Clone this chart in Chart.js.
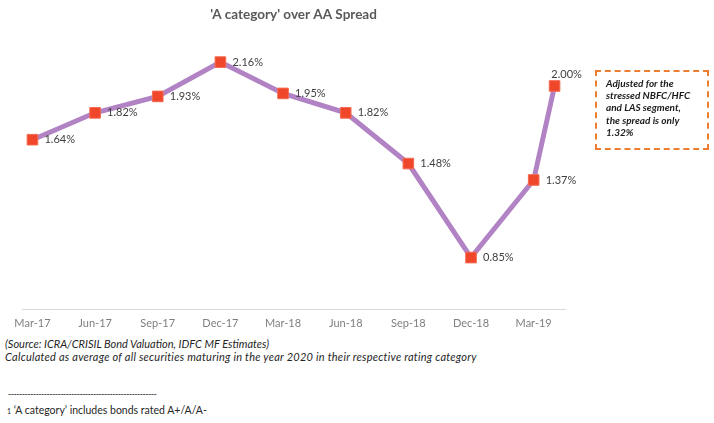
<!DOCTYPE html>
<html>
<head>
<meta charset="utf-8">
<script src="https://cdn.jsdelivr.net/npm/chart.js@4"></script>
<style>
  body { margin: 0; background: #fff; width: 714px; height: 423px; position: relative; overflow: hidden; font-family: Lato, "Liberation Sans", sans-serif; }
  #wrap { position: absolute; left: 0; top: 0; width: 714px; height: 337px; }
  .note { position: absolute; left: 5px; font-size: 11px; font-style: italic; color: #262626; white-space: nowrap; }
  #box { position: absolute; left: 595px; top: 70px; width: 114px; height: 80px; border: 2px dashed #ed7d31; box-sizing: border-box; }
  #box div { position: absolute; left: 9px; top: 5px; font-size: 10px; line-height: 12.2px; font-weight: bold; font-style: italic; color: #1a1a1a; }
</style>
</head>
<body>
<div id="wrap"><canvas id="spreadChart"></canvas></div>
<div id="box"><div>Adjusted for the<br>stressed NBFC/HFC<br>and LAS segment,<br>the spread is only<br>1.32%</div></div>
<div class="note" style="top:337px">(Source: ICRA/CRISIL Bond Valuation, IDFC MF Estimates)</div>
<div class="note" style="top:350px;letter-spacing:0.25px">Calculated as average of all securities maturing in the year 2020 in their respective rating category</div>
<div class="note" style="top:388px;left:8px;font-style:normal;font-size:9px;letter-spacing:-0.6px">------------------------------------------------------</div>
<div class="note" style="top:404px;left:7px;font-style:normal;font-size:10.5px"><span style="font-size:7px">1</span> ‘A category’ includes bonds rated A+/A/A-</div>
<script>
// x axis: months counted from Mar-17
const tickLabels = ["Mar-17", "Jun-17", "Sep-17", "Dec-17", "Mar-18", "Jun-18", "Sep-18", "Dec-18", "Mar-19"];
const tickMonths = [0, 3, 6, 9, 12, 15, 18, 21, 24];

// spread series (%), last point is just after Mar-19
const pointMonths = [0, 3, 6, 9, 12, 15, 18, 21, 24, 25];
const spread = [1.64, 1.82, 1.93, 2.16, 1.95, 1.82, 1.48, 0.85, 1.37, 2.00];

// labels next to the points
const pointLabels = {
  id: "pointLabels",
  afterDatasetsDraw(chart) {
    const c = chart.ctx;
    const meta = chart.getDatasetMeta(0);
    c.save();
    c.font = "11px Lato, sans-serif";
    c.fillStyle = "#404040";
    c.textBaseline = "middle";
    meta.data.forEach((pt, i) => {
      const txt = spread[i].toFixed(2) + "%";
      if (i === spread.length - 1) {
        c.textAlign = "center";
        c.fillText(txt, pt.x + 12, pt.y - 12);
      } else {
        c.textAlign = "left";
        c.fillText(txt, pt.x + 12, pt.y);
      }
    });
    c.restore();
  }
};

const ctx = document.getElementById("spreadChart");
new Chart(ctx, {
  type: "line",
  data: {
    datasets: [{
      data: pointMonths.map((m, i) => ({ x: m, y: spread[i] })),
      borderColor: "#b283c4",
      borderWidth: 5,
      pointStyle: "rect",
      pointRadius: 7.5,
      pointBackgroundColor: "#f0472b",
      pointBorderColor: "#f46a52",
      pointBorderWidth: 1,
      tension: 0
    }]
  },
  options: {
    responsive: true,
    maintainAspectRatio: false,
    animation: false,
    layout: { padding: { left: 22, right: 149, top: 7, bottom: 0 } },
    plugins: {
      legend: { display: false },
      tooltip: { enabled: false },
      title: {
        display: true,
        text: "'A category' over AA Spread",
        color: "#595959",
        font: { family: "Lato, sans-serif", size: 13.5, weight: "bold" },
        padding: { top: 0, bottom: 18 }
      }
    },
    scales: {
      x: {
        type: "linear",
        min: -0.5,
        max: 25.5,
        grid: { display: false, drawTicks: false },
        border: { display: true, color: "#d9d9d9", width: 1 },
        afterBuildTicks: (scale) => {
          scale.ticks = tickMonths.map(v => ({ value: v }));
        },
        ticks: {
          padding: 7,
          color: "#7f7f7f",
          font: { family: "Lato, sans-serif", size: 11 },
          maxRotation: 0,
          autoSkip: false,
          callback: (v) => tickLabels[tickMonths.indexOf(v)]
        }
      },
      y: {
        display: false,
        min: 0.5,
        max: 2.3
      }
    }
  },
  plugins: [pointLabels]
});
</script>
</body>
</html>
